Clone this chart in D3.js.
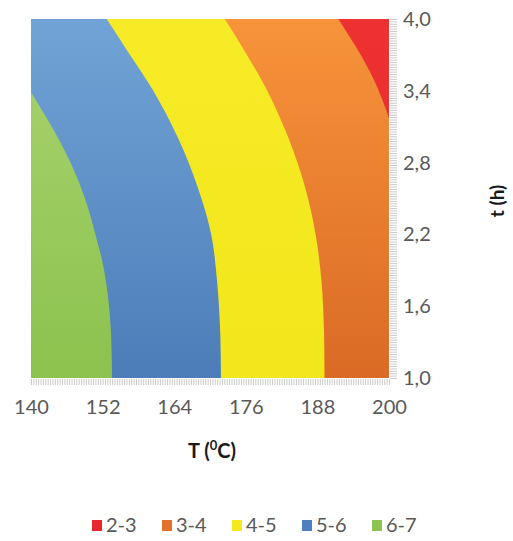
<!DOCTYPE html>
<html>
<head>
<meta charset="utf-8">
<script src="https://cdn.jsdelivr.net/npm/d3@7"></script>
<style>
  body { margin: 0; background: #fff; }
  svg { display: block; }
</style>
</head>
<body>
<svg id="chart" width="513" height="541"></svg>
<script>
// Response bands (legend order) and their fills
const bands = ["2-3", "3-4", "4-5", "5-6", "6-7"];
const bandSwatch = ["#e8272c", "#e2722a", "#f4e81e", "#4f80bd", "#8dc350"];
const bandTop    = ["#ee3131", "#f7943a", "#f6eb26", "#71a3d6", "#a9d36f"];
const bandBottom = ["#e02a2a", "#da6a25", "#f2e71b", "#4d7db8", "#8cc24e"];

// Axis ticks
const xTicks = [140, 152, 164, 176, 188, 200];
const xTickLabels = ["140", "152", "164", "176", "188", "200"];
const yTicks = [1.0, 1.6, 2.2, 2.8, 3.4, 4.0];
const yTickLabels = ["1,0", "1,6", "2,2", "2,8", "3,4", "4,0"];

// Contour lines of the response: time t (h) and temperature T (°C), from top to bottom
const level3_t = [4.0, 3.78, 3.53, 3.31, 3.17];
const level3_T = [191.5, 194.3, 197.1, 199.0, 200.0];
const level4_t = [4.0, 3.7, 3.4, 3.0, 2.6, 2.2, 1.8, 1.4, 1.0];
const level4_T = [172.5, 176.2, 179.6, 183.2, 185.9, 187.7, 188.7, 189.1, 189.2];
const level5_t = [4.0, 3.7, 3.4, 3.0, 2.6, 2.2, 1.8, 1.4, 1.0];
const level5_T = [152.7, 156.6, 160.5, 164.7, 167.9, 170.2, 171.2, 171.7, 171.85];
const level6_t = [3.39, 3.22, 3.0, 2.78, 2.5, 2.2, 1.94, 1.66, 1.38, 1.0];
const level6_T = [140.0, 142.05, 144.6, 146.8, 149.05, 150.8, 152.1, 152.95, 153.4, 153.6];

const svg = d3.select("#chart");
const font = "Lato, 'Open Sans', sans-serif";

const x = d3.scaleLinear().domain([140, 200]).range([31, 389]);
const y = d3.scaleLinear().domain([1, 4]).range([378, 19]);

// vertical shading for each band
const defs = svg.append("defs");
bands.forEach((b, i) => {
  const g = defs.append("linearGradient")
    .attr("id", "band" + i)
    .attr("gradientUnits", "userSpaceOnUse")
    .attr("x1", 0).attr("x2", 0)
    .attr("y1", y(4)).attr("y2", y(1));
  g.append("stop").attr("offset", 0).attr("stop-color", bandTop[i]);
  g.append("stop").attr("offset", 1).attr("stop-color", bandBottom[i]);
});

const curve = d3.line()
  .x(d => x(d[1]))
  .y(d => y(d[0]))
  .curve(d3.curveCatmullRom.alpha(0.5));

const pts = (ts, Ts) => ts.map((t, i) => [t, Ts[i]]);
const P = (T, t) => `${x(T)},${y(t)}`;

// region to the left of a contour line, closed along the plot edges
function region(line, tail) {
  const body = curve(line).slice(1);
  return `M${P(140, 4)}L${body}${tail}Z`;
}

const plot = svg.append("g");

// highest-temperature band fills the whole plot first
plot.append("rect")
  .attr("x", x(140)).attr("y", y(4))
  .attr("width", x(200) - x(140)).attr("height", y(1) - y(4))
  .attr("fill", "url(#band0)");

plot.append("path")
  .attr("d", region(pts(level3_t, level3_T), `L${P(200, 1)}L${P(140, 1)}`))
  .attr("fill", "url(#band1)");

plot.append("path")
  .attr("d", region(pts(level4_t, level4_T), `L${P(140, 1)}`))
  .attr("fill", "url(#band2)");

plot.append("path")
  .attr("d", region(pts(level5_t, level5_T), `L${P(140, 1)}`))
  .attr("fill", "url(#band3)");

plot.append("path")
  .attr("d", curve(pts(level6_t, level6_T)) + `L${P(140, 1)}Z`)
  .attr("fill", "url(#band4)");

// dense tick marks, one per grid row/column
const minorY = d3.range(151).map(i => 1 + i * 0.02);
const minorX = d3.range(151).map(i => 140 + i * 0.4);

const yMinor = svg.append("g")
  .attr("transform", `translate(${x(200) + 1},0)`)
  .call(d3.axisRight(y).tickValues(minorY).tickSize(7).tickFormat(""));
yMinor.select(".domain").remove();
yMinor.selectAll("line").attr("stroke", "#bdbdbd").attr("stroke-width", 0.8);

const xMinor = svg.append("g")
  .attr("transform", `translate(0,${y(1) + 1})`)
  .call(d3.axisBottom(x).tickValues(minorX).tickSize(6).tickFormat(""));
xMinor.select(".domain").remove();
xMinor.selectAll("line").attr("stroke", "#bdbdbd").attr("stroke-width", 0.8);

// tick labels
const yAxis = svg.append("g")
  .attr("transform", `translate(${x(200)},0)`)
  .call(d3.axisRight(y).tickValues(yTicks).tickSize(0).tickPadding(14)
    .tickFormat((d, i) => yTickLabels[i]));
yAxis.select(".domain").remove();
yAxis.selectAll("text")
  .attr("font-family", font).attr("font-size", 20).attr("fill", "#595959");

const xAxis = svg.append("g")
  .attr("transform", `translate(0,${y(1)})`)
  .call(d3.axisBottom(x).tickValues(xTicks).tickSize(0).tickPadding(22)
    .tickFormat((d, i) => xTickLabels[i]));
xAxis.select(".domain").remove();
xAxis.selectAll("text")
  .attr("font-family", font).attr("font-size", 20).attr("fill", "#595959");

// axis titles
const xt = svg.append("text")
  .attr("x", 212).attr("y", 458)
  .attr("text-anchor", "middle")
  .attr("font-family", font).attr("font-size", 20).attr("font-weight", "bold")
  .attr("fill", "#1a1a1a");
xt.append("tspan").text("T (");
xt.append("tspan").attr("font-size", 13).attr("dy", -8).text("0");
xt.append("tspan").attr("dy", 8).text("C)");

svg.append("text")
  .attr("transform", "translate(504,201) rotate(-90)")
  .attr("text-anchor", "middle")
  .attr("font-family", font).attr("font-size", 19).attr("font-weight", "bold")
  .attr("fill", "#1a1a1a")
  .text("t (h)");

// legend
const legend = svg.append("g").attr("transform", "translate(92,0)");
const item = legend.selectAll("g").data(bands).join("g")
  .attr("transform", (d, i) => `translate(${i * 70},0)`);
item.append("rect")
  .attr("x", 0).attr("y", 520).attr("width", 10).attr("height", 11)
  .attr("fill", (d, i) => bandSwatch[i]);
item.append("text")
  .attr("x", 14).attr("y", 532)
  .attr("font-family", font).attr("font-size", 20).attr("fill", "#595959")
  .text(d => d);
</script>
</body>
</html>
